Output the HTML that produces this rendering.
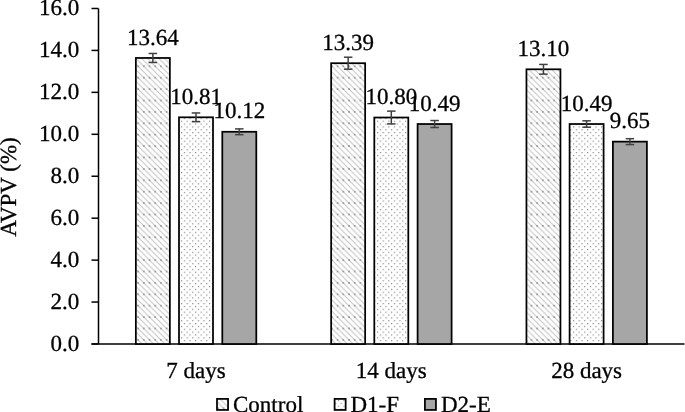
<!DOCTYPE html>
<html><head><meta charset="utf-8"><style>
html,body{margin:0;padding:0;background:#fff;}
svg{display:block;will-change:transform;}
text{font-family:"Liberation Serif",serif;fill:#000;stroke:#000;stroke-width:0.3px;text-rendering:geometricPrecision;}
</style></head><body>
<svg width="685" height="412" viewBox="0 0 685 412">
<defs>
<pattern id="pc" patternUnits="userSpaceOnUse" x="1.3" y="9.3" width="5.7" height="11.4">
<rect width="5.7" height="11.4" fill="#fff"/>
<path d="M-1,-1 L12.4,12.4 M-6.7,-1 L6.7,12.4 M-12.4,-1 L1,12.4" stroke="#c3c3c3" stroke-width="1.1"/>
<rect x="-0.8" y="-0.8" width="1.6" height="1.6" fill="#8a8a8a"/>
<rect x="4.9" y="-0.8" width="1.6" height="1.6" fill="#8a8a8a"/>
<rect x="-0.8" y="10.6" width="1.6" height="1.6" fill="#8a8a8a"/>
<rect x="4.9" y="10.6" width="1.6" height="1.6" fill="#8a8a8a"/>
</pattern>
<pattern id="pd" patternUnits="userSpaceOnUse" x="1.8" y="0.95" width="5.6" height="5.7">
<rect width="5.6" height="5.7" fill="#fff"/>
<rect x="0" y="0" width="1.2" height="1.2" fill="#8a8a8a"/>
<rect x="2.8" y="2.85" width="1.2" height="1.2" fill="#8a8a8a"/>
</pattern>
</defs>

<g stroke="#000" stroke-width="1.5" fill="none">
<line x1="98.5" y1="8.480000000000018" x2="98.5" y2="344.0"/>
<line x1="91.5" y1="344.00" x2="98.5" y2="344.00"/>
<line x1="91.5" y1="302.06" x2="98.5" y2="302.06"/>
<line x1="91.5" y1="260.12" x2="98.5" y2="260.12"/>
<line x1="91.5" y1="218.18" x2="98.5" y2="218.18"/>
<line x1="91.5" y1="176.24" x2="98.5" y2="176.24"/>
<line x1="91.5" y1="134.30" x2="98.5" y2="134.30"/>
<line x1="91.5" y1="92.36" x2="98.5" y2="92.36"/>
<line x1="91.5" y1="50.42" x2="98.5" y2="50.42"/>
<line x1="91.5" y1="8.48" x2="98.5" y2="8.48"/>
<line x1="91.5" y1="344.0" x2="684.5" y2="344.0"/>
</g>
<text transform="translate(79.2,350.80) scale(1,1.0)" font-size="23" text-anchor="end">0.0</text>
<text transform="translate(79.2,308.86) scale(1,1.0)" font-size="23" text-anchor="end">2.0</text>
<text transform="translate(79.2,266.92) scale(1,1.0)" font-size="23" text-anchor="end">4.0</text>
<text transform="translate(79.2,224.98) scale(1,1.0)" font-size="23" text-anchor="end">6.0</text>
<text transform="translate(79.2,183.04) scale(1,1.0)" font-size="23" text-anchor="end">8.0</text>
<text transform="translate(79.2,141.10) scale(1,1.0)" font-size="23" text-anchor="end">10.0</text>
<text transform="translate(79.2,99.16) scale(1,1.0)" font-size="23" text-anchor="end">12.0</text>
<text transform="translate(79.2,57.22) scale(1,1.0)" font-size="23" text-anchor="end">14.0</text>
<text transform="translate(79.2,15.28) scale(1,1.0)" font-size="23" text-anchor="end">16.0</text>
<rect x="135.85" y="57.97" width="34.00" height="286.03" fill="url(#pc)" stroke="#000" stroke-width="1.75"/>
<g stroke="#404040" stroke-width="1.5"><line x1="152.85" y1="53.47" x2="152.85" y2="62.47"/><line x1="148.60" y1="53.47" x2="157.10" y2="53.47"/><line x1="148.60" y1="62.47" x2="157.10" y2="62.47"/></g>
<text transform="translate(152.85,44.57) scale(1,1.0)" font-size="23" text-anchor="middle">13.64</text>
<rect x="179.00" y="117.31" width="34.00" height="226.69" fill="url(#pd)" stroke="#000" stroke-width="1.75"/>
<g stroke="#404040" stroke-width="1.5"><line x1="196.00" y1="112.96" x2="196.00" y2="121.66"/><line x1="191.75" y1="112.96" x2="200.25" y2="112.96"/><line x1="191.75" y1="121.66" x2="200.25" y2="121.66"/></g>
<text transform="translate(196.00,103.91) scale(1,1.0)" font-size="23" text-anchor="middle">10.81</text>
<rect x="222.30" y="131.78" width="34.00" height="212.22" fill="#a6a6a6" stroke="#000" stroke-width="1.75"/>
<g stroke="#404040" stroke-width="1.5"><line x1="239.30" y1="128.88" x2="239.30" y2="134.68"/><line x1="235.05" y1="128.88" x2="243.55" y2="128.88"/><line x1="235.05" y1="134.68" x2="243.55" y2="134.68"/></g>
<text transform="translate(239.30,118.38) scale(1,1.0)" font-size="23" text-anchor="middle">10.12</text>
<text transform="translate(196.00,378) scale(1,1.0)" font-size="23" text-anchor="middle">7 days</text>
<rect x="331.15" y="63.21" width="34.00" height="280.79" fill="url(#pc)" stroke="#000" stroke-width="1.75"/>
<g stroke="#404040" stroke-width="1.5"><line x1="348.15" y1="57.21" x2="348.15" y2="69.21"/><line x1="343.90" y1="57.21" x2="352.40" y2="57.21"/><line x1="343.90" y1="69.21" x2="352.40" y2="69.21"/></g>
<text transform="translate(348.15,49.81) scale(1,1.0)" font-size="23" text-anchor="middle">13.39</text>
<rect x="374.30" y="117.52" width="34.00" height="226.48" fill="url(#pd)" stroke="#000" stroke-width="1.75"/>
<g stroke="#404040" stroke-width="1.5"><line x1="391.30" y1="111.12" x2="391.30" y2="123.92"/><line x1="387.05" y1="111.12" x2="395.55" y2="111.12"/><line x1="387.05" y1="123.92" x2="395.55" y2="123.92"/></g>
<text transform="translate(391.30,104.12) scale(1,1.0)" font-size="23" text-anchor="middle">10.80</text>
<rect x="417.60" y="124.02" width="34.00" height="219.98" fill="#a6a6a6" stroke="#000" stroke-width="1.75"/>
<g stroke="#404040" stroke-width="1.5"><line x1="434.60" y1="120.52" x2="434.60" y2="127.52"/><line x1="430.35" y1="120.52" x2="438.85" y2="120.52"/><line x1="430.35" y1="127.52" x2="438.85" y2="127.52"/></g>
<text transform="translate(434.60,110.62) scale(1,1.0)" font-size="23" text-anchor="middle">10.49</text>
<text transform="translate(391.30,378) scale(1,1.0)" font-size="23" text-anchor="middle">14 days</text>
<rect x="526.45" y="69.29" width="34.00" height="274.71" fill="url(#pc)" stroke="#000" stroke-width="1.75"/>
<g stroke="#404040" stroke-width="1.5"><line x1="543.45" y1="64.44" x2="543.45" y2="74.14"/><line x1="539.20" y1="64.44" x2="547.70" y2="64.44"/><line x1="539.20" y1="74.14" x2="547.70" y2="74.14"/></g>
<text transform="translate(543.45,55.89) scale(1,1.0)" font-size="23" text-anchor="middle">13.10</text>
<rect x="569.60" y="124.02" width="34.00" height="219.98" fill="url(#pd)" stroke="#000" stroke-width="1.75"/>
<g stroke="#404040" stroke-width="1.5"><line x1="586.60" y1="120.82" x2="586.60" y2="127.22"/><line x1="582.35" y1="120.82" x2="590.85" y2="120.82"/><line x1="582.35" y1="127.22" x2="590.85" y2="127.22"/></g>
<text transform="translate(586.60,110.62) scale(1,1.0)" font-size="23" text-anchor="middle">10.49</text>
<rect x="612.90" y="141.64" width="34.00" height="202.36" fill="#a6a6a6" stroke="#000" stroke-width="1.75"/>
<g stroke="#404040" stroke-width="1.5"><line x1="629.90" y1="138.69" x2="629.90" y2="144.59"/><line x1="625.65" y1="138.69" x2="634.15" y2="138.69"/><line x1="625.65" y1="144.59" x2="634.15" y2="144.59"/></g>
<text transform="translate(629.90,128.24) scale(1,1.0)" font-size="23" text-anchor="middle">9.65</text>
<text transform="translate(586.60,378) scale(1,1.0)" font-size="23" text-anchor="middle">28 days</text>
<text transform="translate(16,187) rotate(-90)" font-size="23" text-anchor="middle">AVPV (%)</text>
<rect x="217.0" y="398.9" width="11.05" height="11.05" fill="url(#pc)" stroke="#000" stroke-width="1.75"/>
<text x="233.0" y="411.6" font-size="23">Control</text>
<rect x="334.6" y="398.9" width="11.05" height="11.05" fill="url(#pd)" stroke="#000" stroke-width="1.75"/>
<text x="350.5" y="411.6" font-size="23">D1-F</text>
<rect x="424.9" y="398.9" width="11.05" height="11.05" fill="#a6a6a6" stroke="#000" stroke-width="1.75"/>
<text x="441.0" y="411.6" font-size="23">D2-E</text>
</svg></body></html>
